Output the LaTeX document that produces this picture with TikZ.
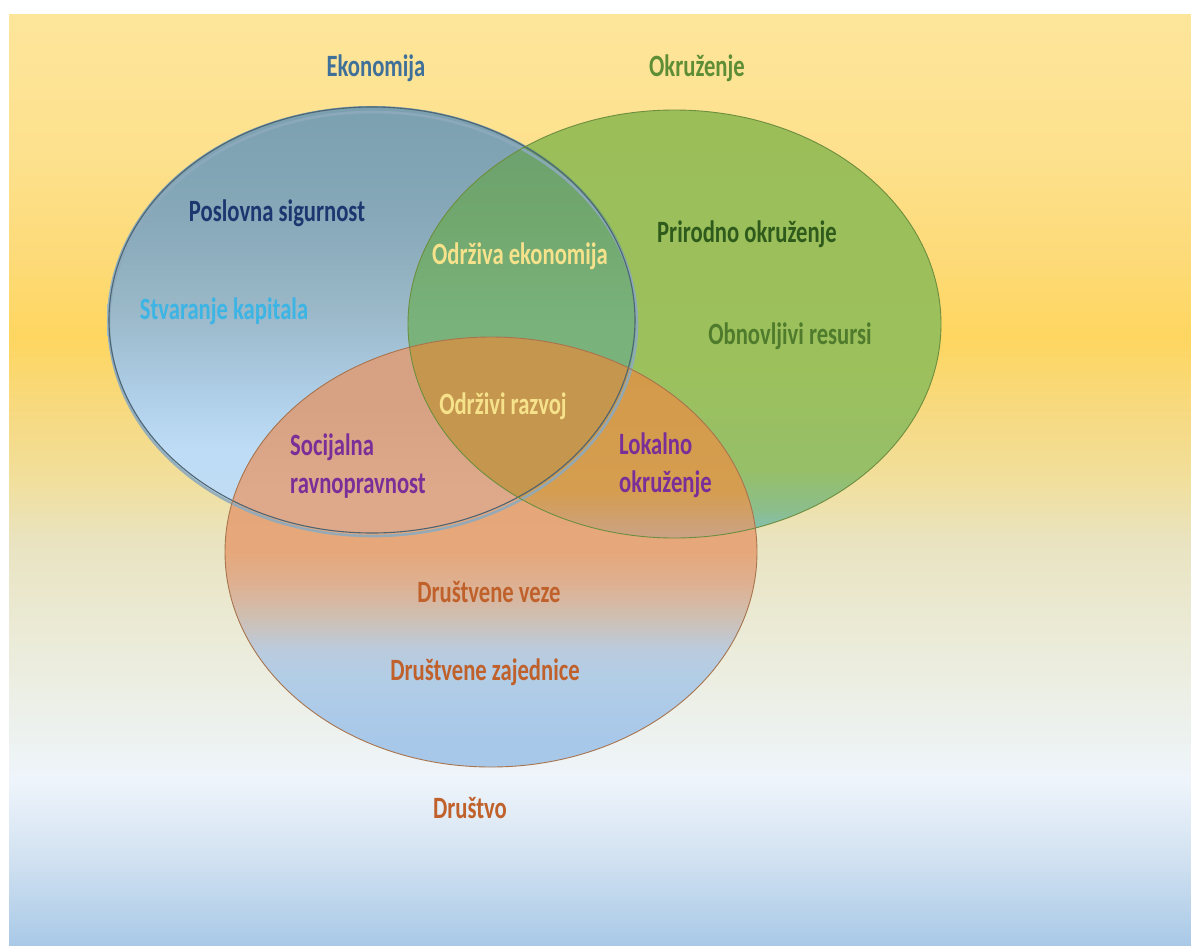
\documentclass[tikz,border=0pt]{standalone}
\usepackage{fontspec}
\setmainfont{Carlito}[FakeStretch=0.73]
% background colours (bottom to top)
\definecolor{bgA}{HTML}{FDE59A}
\definecolor{bgB}{HTML}{FDE18E}
\definecolor{bgC}{HTML}{FDDB7A}
\definecolor{bgD}{HTML}{FED660}
\definecolor{bgE}{HTML}{F6DA84}
\definecolor{bgF}{HTML}{F1DF9C}
\definecolor{bgG}{HTML}{E9E3C0}
\definecolor{bgH}{HTML}{EBEBD8}
\definecolor{bgI}{HTML}{EDF1EC}
\definecolor{bgJ}{HTML}{EEF4FB}
\definecolor{bgK}{HTML}{D5E4F2}
\definecolor{bgL}{HTML}{A9C9E7}
\pgfdeclareverticalshading{bgshade}{100bp}{color(0bp)=(bgL); color(25bp)=(bgL); color(30.1bp)=(bgK); color(33.87bp)=(bgJ); color(37.08bp)=(bgI); color(41.38bp)=(bgH); color(46.75bp)=(bgG); color(49.97bp)=(bgF); color(53.2bp)=(bgE); color(57.65bp)=(bgD); color(62.33bp)=(bgC); color(67.7bp)=(bgB); color(75bp)=(bgA); color(100bp)=(bgA)}
% economy ellipse
\definecolor{ecoA}{HTML}{7BA0AF}
\definecolor{ecoB}{HTML}{86A8B8}
\definecolor{ecoC}{HTML}{9AB8C8}
\definecolor{ecoD}{HTML}{B0D0EA}
\definecolor{ecoE}{HTML}{BEDCF6}
\definecolor{ecoF}{HTML}{C2DDF4}
\pgfdeclareverticalshading{ecoshade}{100bp}{color(0bp)=(ecoF); color(25bp)=(ecoF); color(34.8bp)=(ecoE); color(40.65bp)=(ecoD); color(51.05bp)=(ecoC); color(62.5bp)=(ecoB); color(75bp)=(ecoA); color(100bp)=(ecoA)}
% environment ellipse
\definecolor{envA}{HTML}{9BBE59}
\definecolor{envB}{HTML}{9CC05C}
\definecolor{envC}{HTML}{96BF68}
\definecolor{envD}{HTML}{8CBE8C}
\definecolor{envE}{HTML}{7EC0C2}
\pgfdeclareverticalshading{envshade}{100bp}{color(0bp)=(envE); color(25bp)=(envE); color(28.3bp)=(envD); color(33bp)=(envC); color(45bp)=(envB); color(75bp)=(envA); color(100bp)=(envA)}
% society ellipse
\definecolor{socA}{HTML}{E2A474}
\definecolor{socB}{HTML}{E6A87B}
\definecolor{socC}{HTML}{DDB193}
\definecolor{socD}{HTML}{CFBFB2}
\definecolor{socE}{HTML}{BACBDD}
\definecolor{socF}{HTML}{B2CDE6}
\definecolor{socG}{HTML}{A8C8EA}
\pgfdeclareverticalshading{socshade}{100bp}{color(0bp)=(socG); color(25bp)=(socG); color(28.14bp)=(socG); color(35.5bp)=(socF); color(38.6bp)=(socE); color(42.5bp)=(socD); color(46bp)=(socC); color(50bp)=(socB); color(75bp)=(socA); color(100bp)=(socA)}
% overlaps
\definecolor{abA}{HTML}{6C9E6F}
\definecolor{abB}{HTML}{71A86E}
\definecolor{abC}{HTML}{7AB27C}
\pgfdeclareverticalshading{abshade}{100bp}{color(0bp)=(abC); color(25bp)=(abC); color(50bp)=(abC); color(62bp)=(abB); color(75bp)=(abA); color(100bp)=(abA)}
\definecolor{acA}{HTML}{D6A283}
\definecolor{acB}{HTML}{DEA98A}
\pgfdeclareverticalshading{acshade}{100bp}{color(0bp)=(acB); color(25bp)=(acB); color(30bp)=(acB); color(40bp)=(acA); color(75bp)=(acA); color(100bp)=(acA)}
\definecolor{bcA}{HTML}{D29948}
\definecolor{bcB}{HTML}{D59D4F}
\definecolor{bcC}{HTML}{CBA285}
\pgfdeclareverticalshading{bcshade}{100bp}{color(0bp)=(bcC); color(25bp)=(bcC); color(30.6bp)=(bcB); color(50bp)=(bcA); color(75bp)=(bcA); color(100bp)=(bcA)}
\definecolor{abc}{HTML}{C4964E}
% outlines and text
\definecolor{ecoline}{HTML}{4D6472}
\definecolor{ecoring}{HTML}{8DAABD}
\definecolor{envline}{HTML}{6D8E3E}
\definecolor{socline}{HTML}{A8744E}
\definecolor{tEko}{HTML}{3F7099}
\definecolor{tOkr}{HTML}{5D8D35}
\definecolor{tPos}{HTML}{1C3770}
\definecolor{tStv}{HTML}{3CB4E4}
\definecolor{tOdr}{HTML}{F7E28C}
\definecolor{tPri}{HTML}{2E5A1C}
\definecolor{tObn}{HTML}{4F7B2C}
\definecolor{tPur}{HTML}{7A2E98}
\definecolor{tDru}{HTML}{C0612B}
\begin{document}
\begin{tikzpicture}[x=1pt,y=-1pt,
  lbl/.style={font=\fontsize{31}{38}\selectfont\bfseries, inner sep=0pt},
  eR/.style={x radius=265, y radius=214},
  gR/.style={x radius=266.5, y radius=214},
  sR/.style={x radius=266, y radius=215}]
\useasboundingbox (0,0) rectangle (1191,945);
\fill[white] (0,0) rectangle (1191,945);
\shade[shading=bgshade] (9,14) rectangle (1191,945);
\coordinate (eco) at (372,320);
\coordinate (env) at (674.5,324);
\coordinate (soc) at (491,552);
% base fills
\shade[shading=ecoshade] (eco) ellipse [eR];
\shade[shading=envshade] (env) ellipse [gR];
\shade[shading=socshade] (soc) ellipse [sR];
% overlaps
\begin{scope}
  \clip (eco) ellipse [eR];
  \shade[shading=abshade] (env) ellipse [gR];
\end{scope}
\begin{scope}
  \clip (soc) ellipse [sR];
  \shade[shading=acshade] (eco) ellipse [eR];
\end{scope}
\begin{scope}
  \clip (soc) ellipse [sR];
  \shade[shading=bcshade] (env) ellipse [gR];
\end{scope}
\begin{scope}
  \clip (soc) ellipse [sR];
  \clip (eco) ellipse [eR];
  \fill[abc] (env) ellipse [gR];
\end{scope}
% outlines
\draw[ecoring, line width=2.6pt, opacity=0.9] ([shift={(1,4)}]eco) ellipse [x radius=264, y radius=212];
\draw[ecoline, line width=1.1pt] (eco) ellipse [x radius=263, y radius=213];
\draw[envline, line width=0.9pt] (env) ellipse [gR];
\draw[socline, line width=0.9pt] (soc) ellipse [sR];
% labels
\node[lbl, text=tEko] (tEkonomija) at (376,68) {Ekonomija};
\node[lbl, text=tOkr] (tOkruzenje) at (697,68) {Okruženje};
\node[lbl, text=tPos] (tPoslovna) at (277,213) {Poslovna sigurnost};
\node[lbl, text=tStv] (tStvaranje) at (224,311) {Stvaranje kapitala};
\node[lbl, text=tOdr] (tOdrzivaEk) at (520,256) {Održiva ekonomija};
\node[lbl, text=tPri] (tPrirodno) at (747,234) {Prirodno okruženje};
\node[lbl, text=tObn] (tObnovljivi) at (790,336) {Obnovljivi resursi};
\node[lbl, text=tOdr] (tOdrziviRaz) at (503,406) {Održivi razvoj};
\node[lbl, text=tPur, align=left, anchor=west] (tSocijalna) at (290,466) {Socijalna\\ravnopravnost};
\node[lbl, text=tPur, align=left, anchor=west] (tLokalno) at (619,465) {Lokalno\\okruženje};
\node[lbl, text=tDru] (tVeze) at (489,592) {Društvene veze};
\node[lbl, text=tDru] (tZajednice) at (485,672) {Društvene zajednice};
\node[lbl, text=tDru] (tDrustvo) at (470,808) {Društvo};
\end{tikzpicture}
\end{document}
